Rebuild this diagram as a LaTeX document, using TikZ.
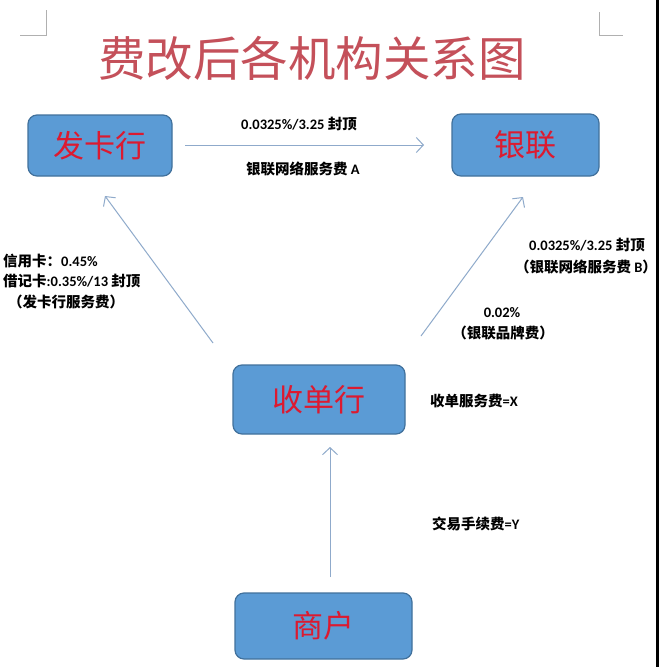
\documentclass[tikz,border=0pt]{standalone}
\usepackage{fontspec}
\setmainfont{Carlito}
\newfontfamily\cjk{Noto Sans CJK SC}
\usetikzlibrary{arrows.meta}
\definecolor{boxfill}{HTML}{5B9BD5}
\definecolor{boxline}{HTML}{41719C}
\definecolor{boxtext}{HTML}{DC1A30}
\definecolor{titlecol}{HTML}{C4505A}
\definecolor{arrowcol}{HTML}{8FAACB}
\definecolor{markcol}{HTML}{B0B0B0}
\tikzset{
  org/.style={draw=boxline, fill=boxfill, line width=1.2pt, rounded corners=9pt,
    text=boxtext, font=\cjk\fontsize{31}{31}\selectfont, inner sep=0pt},
  flow/.style={draw=arrowcol, line width=1pt,
    -{Straight Barb[length=7pt,width=15pt,line width=1pt]}},
  fee/.style={font=\bfseries\fontsize{14.5}{17}\selectfont, inner sep=0pt, text=black},
  cornermark/.style={draw=markcol, line width=0.8pt}
}
\begin{document}
\begin{tikzpicture}[x=1pt,y=-1pt]
\useasboundingbox (0,0) rectangle (660,667);
\fill[white] (0,0) rectangle (660,667);
% page corner marks
\draw[cornermark] (46,10) -- (46,35) -- (20,35);
\draw[cornermark] (599,12) -- (599,35) -- (623,35);
% right edge line
\draw[black, line width=2.5pt] (657.5,0) -- (657.5,667);
% title
\node[text=titlecol, font=\cjk\fontsize{47.5}{47.5}\selectfont, inner sep=0pt] (title) at (312,58) {费改后各机构关系图};
% organisations
\node[org, minimum width=144pt, minimum height=61pt] (fk) at (100,145.5) {发卡行};
\node[org, minimum width=147pt, minimum height=62pt] (yl) at (525.5,145) {银联};
\node[org, minimum width=172pt, minimum height=69pt] (sd) at (319,399.5) {收单行};
\node[org, minimum width=177pt, minimum height=66pt] (sh) at (323.5,626) {商户};
% connector ends
\coordinate (h1) at (185,145);
\coordinate (h2) at (424,145);
\coordinate (l1) at (213,343);
\coordinate (l2) at (105,196);
\coordinate (r1) at (421,336);
\coordinate (r2) at (523,197);
\coordinate (v1) at (330,577);
\coordinate (v2) at (330,447);
\draw[flow] (h1) -- (h2);
\draw[flow] (l1) -- (l2);
\draw[flow] (r1) -- (r2);
\draw[flow] (v1) -- (v2);
% labels
\node[fee] (t1) at (299,124) {0.0325\%/3.25 {\cjk 封顶}};
\node[fee] (t2) at (303,169) {{\cjk 银联网络服务费} A};
\node[fee, anchor=west] (t3) at (3,261) {{\cjk 信用卡：}0.45\%};
\node[fee, anchor=west] (t4) at (3,281) {{\cjk 借记卡}:0.35\%/13 {\cjk 封顶}};
\node[fee, anchor=west] (t5) at (8,302) {{\cjk （发卡行服务费）}};
\node[fee] (t6) at (587,245) {0.0325\%/3.25 {\cjk 封顶}};
\node[fee] (t7) at (586,267) {{\cjk （银联网络服务费} B{\cjk ）}};
\node[fee] (t8) at (502,313) {0.02\%};
\node[fee] (t9) at (503,333) {{\cjk （银联品牌费）}};
\node[fee, anchor=west] (t10) at (430,401) {{\cjk 收单服务费}=X};
\node[fee, anchor=west] (t11) at (432,524) {{\cjk 交易手续费}=Y};
\end{tikzpicture}
\end{document}
